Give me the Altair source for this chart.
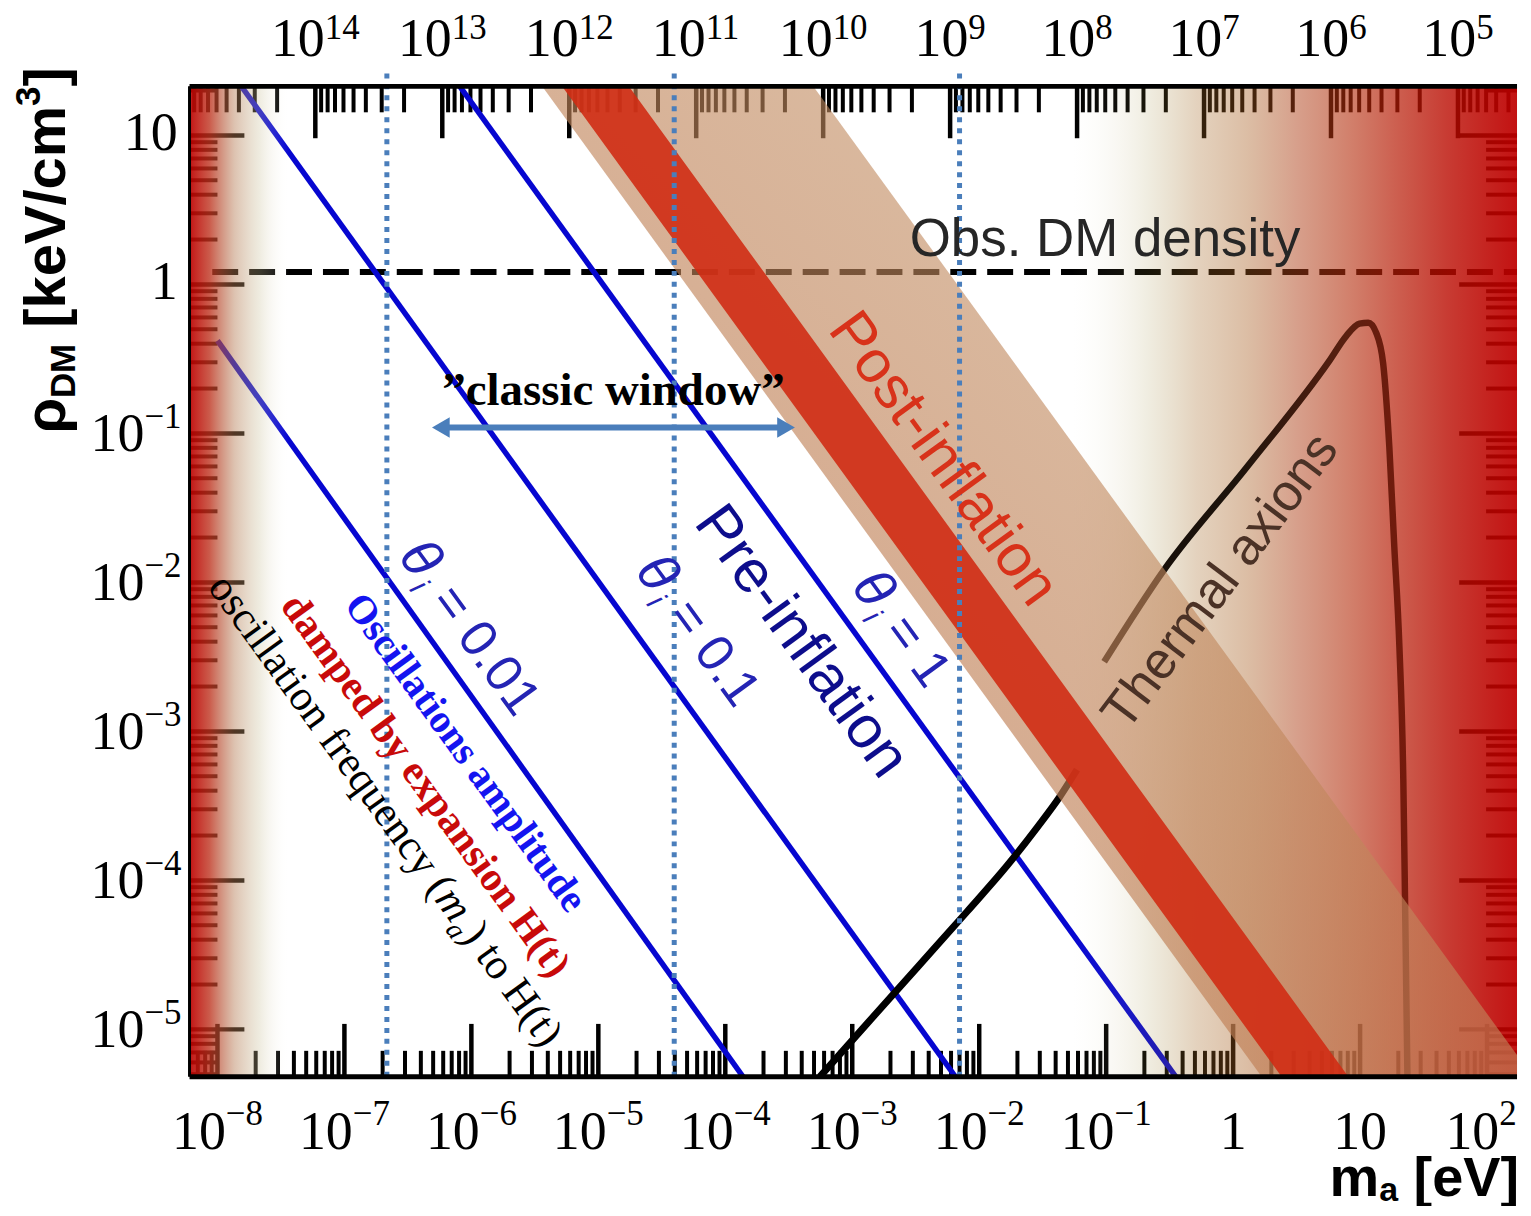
import altair as alt
import pandas as pd

# ---------------- plot geometry ----------------
W, H = 1331, 993
X_LO, X_HI = -8.22, 2.236      # log10 m_a [eV]
Y_LO, Y_HI = -5.318, 1.329     # log10 rho [keV/cm^3]

# ---------------- data ----------------
theta_id = ["0.01", "0.01", "0.1", "0.1", "1", "1"]
theta_m = [1.0e-8, 1.38e-4, 1.545e-8, 6.50e-3, 8.11e-7, 0.354]
theta_rho = [0.419, 4.81e-6, 21.3, 4.81e-6, 21.3, 4.81e-6]

thermal_m = [0.0964, 0.285, 1.28, 5.74, 7.80, 9.89, 11.6, 13.4, 15.2, 17.0, 18.6, 20.4, 21.9, 22.7, 23.6]
thermal_rho = [2.93e-3, 1.21e-2, 5.92e-2, 0.308, 0.452, 0.545, 0.553, 0.473, 0.294, 8.05e-2,
               1.73e-2, 3.70e-3, 4.75e-4, 5.50e-5, 4.81e-6]

osc_m = [5.56e-4, 1.324e-3, 3.27e-3, 8.07e-3, 1.667e-2, 2.864e-2, 4.27e-2, 5.90e-2]
osc_rho = [4.81e-6, 1.106e-5, 2.62e-5, 6.21e-5, 1.262e-4, 2.27e-4, 3.60e-4, 5.54e-4]

post_m = [3.39e-6, 4.63e-4, 1.679, 172.2]
post_hi = [23.0, 23.0, 1.538e-3, 6.73e-6]
post_lo = [23.0, 0.0718, 4.81e-6, 4.81e-6]

core_m = [4.864e-6, 1.633e-5, 2.410, 8.091]
core_hi = [23.0, 23.0, 1.99e-5, 4.81e-6]
core_lo = [23.0, 5.559, 4.81e-6, 4.81e-6]

window_m = [2.16e-7, 3.96e-5, 7.0e-3]
obs_m = [9.1e-9, 172.2]
obs_rho = [1.21, 1.21]
arrow_m = [5.75e-7, 3.01e-4]
arrow_rho = [0.1096, 0.1096]

# tick labels
bot_vals = [1e-8, 1e-7, 1e-6, 1e-5, 1e-4, 1e-3, 1e-2, 1e-1, 1.0, 10.0, 100.0]
bot_base = ["10", "10", "10", "10", "10", "10", "10", "10", "1", "10", "10"]
bot_exp = ["\u22128", "\u22127", "\u22126", "\u22125", "\u22124", "\u22123", "\u22122", "\u22121", "", "", "2"]

top_f = [1e14, 1e13, 1e12, 1e11, 1e10, 1e9, 1e8, 1e7, 1e6, 1e5]
top_exp = ["14", "13", "12", "11", "10", "9", "8", "7", "6", "5"]
FA_CONV = 5.9e6   # m_a [eV] * f_a [GeV]

left_vals = [10.0, 1.0, 0.1, 1e-2, 1e-3, 1e-4, 1e-5]
left_base = ["10", "1", "10", "10", "10", "10", "10"]
left_exp = ["", "", "\u22121", "\u22122", "\u22123", "\u22124", "\u22125"]

# annotation anchors (m_a, rho)
ann_theta_m = [9.89e-7, 6.22e-5, 2.49e-3]
ann_theta_rho = [5.02e-3, 4.80e-3, 4.94e-3]
ann_theta_txt = [" = 0.01", " = 0.1", " = 1"]
pre_anchor = (4.16e-4, 4.11e-3)
post_anchor = (5.43e-3, 0.0690)
thermal_anchor = (0.771, 0.01035)
obs_anchor = (0.0980, 2.05)
classic_anchor = (1.315e-5, 0.200)
amp_anchor = (9.20e-7, 7.31e-4)
damp_anchor = (4.47e-7, 4.40e-4)
freq_anchor = (2.16e-7, 2.99e-4)

# ---------------- helpers ----------------
SERIF = "Liberation Serif"
SANS = "Liberation Sans"

TIMES = {' ': .25, '(': .333, ')': .333, 'H': .722, 'O': .722, 'a': .444, 'b': .5, 'c': .444,
         'd': .5, 'e': .444, 'f': .333, 'i': .278, 'l': .278, 'm': .778, 'n': .5, 'o': .5, 'p': .5,
         'q': .5, 'r': .333, 's': .389, 't': .278, 'u': .5, 'x': .5, 'y': .5, '\u2212': .564,
         '0': .5, '1': .5, '2': .5, '3': .5, '4': .5, '5': .5, '6': .5, '7': .5, '8': .5, '9': .5}
TIMES_I = {'m': .722, 'a': .5}
ARIAL = {' ': .278, '=': .584, '0': .556, '1': .556, '.': .278, 'i': .222}
ARIAL_I = {'\u03b8': .60, 'i': .222}
ARIAL_B = {'\u03c1': .611, 'D': .722, 'M': .833, ' ': .278, '[': .333, ']': .333, 'k': .556,
           'e': .556, 'V': .667, '/': .278, 'c': .556, 'm': .889, '3': .556, 'a': .556}


def tw(s, tab, size):
    return sum(tab.get(ch, 0.5) for ch in s) * size


xs = alt.Scale(type="log", domain=[10 ** X_LO, 10 ** X_HI], nice=False)
ys = alt.Scale(type="log", domain=[10 ** Y_LO, 10 ** Y_HI], nice=False)


def ex(f="m"):
    return alt.X(f"{f}:Q", scale=xs, axis=None)


def ey(f="r"):
    return alt.Y(f"{f}:Q", scale=ys, axis=None)


one = pd.DataFrame({"k": [0]})
layers = []

# ---------------- ticks (under overlays) ----------------
M_MIN, M_MAX = 10 ** X_LO, 10 ** X_HI
R_MIN, R_MAX = 10 ** Y_LO, 10 ** Y_HI
bot_major = [10.0 ** k for k in range(-8, 3)]
bot_minor = [n * 10.0 ** k for k in range(-9, 3) for n in range(2, 10) if M_MIN <= n * 10.0 ** k <= M_MAX]
top_major = [FA_CONV / f for f in top_f]
top_minor = [FA_CONV / (n * 10.0 ** k) for k in range(3, 16) for n in range(2, 10)
             if M_MIN <= FA_CONV / (n * 10.0 ** k) <= M_MAX]
y_major = [10.0 ** k for k in range(-5, 2)]
y_minor = [n * 10.0 ** k for k in range(-6, 2) for n in range(2, 10) if R_MIN <= n * 10.0 ** k <= R_MAX]


def xticks(vals, y0, y1, w):
    return alt.Chart(pd.DataFrame({"m": vals})).mark_rule(color="black", strokeWidth=w).encode(
        x=ex(), y=alt.value(y0), y2=alt.value(y1))


def yticks(vals, x0, x1, w):
    return alt.Chart(pd.DataFrame({"r": vals})).mark_rule(color="black", strokeWidth=w).encode(
        y=ey(), x=alt.value(x0), x2=alt.value(x1))


layers += [xticks(bot_major, H, H - 53, 4.5), xticks(bot_minor, H, H - 26, 4),
           xticks(top_major, 0, 52, 4.5), xticks(top_minor, 0, 26, 4),
           yticks(y_major, 0, 55, 4.5), yticks(y_minor, 0, 28, 4),
           yticks(y_major, W, W - 58, 4.5), yticks(y_minor, W, W - 31, 4)]

# ---------------- lines & curves ----------------
layers.append(alt.Chart(pd.DataFrame({"m": obs_m, "r": obs_rho})).mark_line(
    color="black", strokeWidth=6, strokeDash=[26, 11], clip=True).encode(x=ex(), y=ey()))
layers.append(alt.Chart(pd.DataFrame({"m": theta_m, "r": theta_rho, "s": theta_id})).mark_line(
    color="#0606d0", strokeWidth=5.5, clip=True).encode(x=ex(), y=ey(), detail="s:N"))
layers.append(alt.Chart(pd.DataFrame({"m": osc_m, "r": osc_rho})).mark_line(
    color="black", strokeWidth=7, clip=True, interpolate="monotone").encode(x=ex(), y=ey()))

# ---------------- edge gradients ----------------
left_grad = alt.LinearGradient(gradient="linear", x1=0, x2=1, y1=0, y2=0, stops=[
    alt.GradientStop(offset=0, color="rgba(190,0,0,0.92)"),
    alt.GradientStop(offset=0.2, color="rgba(190,50,30,0.8)"),
    alt.GradientStop(offset=0.45, color="rgba(180,120,80,0.45)"),
    alt.GradientStop(offset=0.7, color="rgba(200,190,150,0.3)"),
    alt.GradientStop(offset=1, color="rgba(255,255,255,0)")])
right_grad = alt.LinearGradient(gradient="linear", x1=0, x2=1, y1=0, y2=0, stops=[
    alt.GradientStop(offset=0, color="rgba(230,225,200,0)"),
    alt.GradientStop(offset=0.168, color="rgba(155,135,55,0.15)"),
    alt.GradientStop(offset=0.28, color="rgba(165,105,38,0.3)"),
    alt.GradientStop(offset=0.392, color="rgba(167,92,30,0.4)"),
    alt.GradientStop(offset=0.504, color="rgba(175,65,25,0.5)"),
    alt.GradientStop(offset=0.617, color="rgba(180,47,13,0.6)"),
    alt.GradientStop(offset=0.729, color="rgba(183,27,5,0.7)"),
    alt.GradientStop(offset=0.841, color="rgba(186,11,0,0.8)"),
    alt.GradientStop(offset=1, color="rgba(190,0,0,0.93)")])
layers.append(alt.Chart(one).mark_rect(color=left_grad).encode(
    x=alt.value(0), x2=alt.value(100), y=alt.value(0), y2=alt.value(H)))
layers.append(alt.Chart(one).mark_rect(color=right_grad).encode(
    x=alt.value(885), x2=alt.value(W), y=alt.value(0), y2=alt.value(H)))

# thermal curve: black in the clear region, dark red under the red edge
thermal_grad = alt.LinearGradient(gradient="linear", x1=0, x2=1, y1=0, y2=0, stops=[
    alt.GradientStop(offset=0, color="#120c08"),
    alt.GradientStop(offset=0.45, color="#1e140c"),
    alt.GradientStop(offset=0.8, color="#5a2010"),
    alt.GradientStop(offset=1, color="#761a0c")])
layers.append(alt.Chart(pd.DataFrame({"m": thermal_m, "r": thermal_rho})).mark_line(
    color=thermal_grad, strokeWidth=6.5, clip=True, interpolate="monotone").encode(x=ex(), y=ey()))

# ---------------- bands ----------------
band_grad = alt.LinearGradient(gradient="linear", x1=1, y1=0, x2=0, y2=1, stops=[
    alt.GradientStop(offset=0, color="rgba(195,155,110,0.55)"),
    alt.GradientStop(offset=1, color="rgba(190,110,70,0.72)")])
layers.append(alt.Chart(pd.DataFrame({"m": post_m, "r": post_hi, "r2": post_lo})).mark_area(
    color=band_grad, clip=True).encode(x=ex(), y=ey(), y2=alt.Y2("r2:Q")))
layers.append(alt.Chart(pd.DataFrame({"m": core_m, "r": core_hi, "r2": core_lo})).mark_area(
    color="#d02c14", opacity=0.9, clip=True).encode(x=ex(), y=ey(), y2=alt.Y2("r2:Q")))

# ---------------- window lines & arrow ----------------
layers.append(alt.Chart(pd.DataFrame({"m": window_m})).mark_rule(
    color="#4a7ebb", strokeWidth=5, strokeDash=[5, 6]).encode(x=ex(), y=alt.value(-13), y2=alt.value(H)))
layers.append(alt.Chart(pd.DataFrame({"m": arrow_m, "r": arrow_rho})).mark_line(
    color="#4a7ebb", strokeWidth=6).encode(x=ex(), y=ey()))
layers.append(alt.Chart(pd.DataFrame({"m": arrow_m[:1], "r": arrow_rho[:1]})).mark_point(
    shape="triangle-left", filled=True, size=420, color="#4a7ebb", opacity=1).encode(x=ex(), y=ey()))
layers.append(alt.Chart(pd.DataFrame({"m": arrow_m[1:], "r": arrow_rho[1:]})).mark_point(
    shape="triangle-right", filled=True, size=420, color="#4a7ebb", opacity=1).encode(x=ex(), y=ey()))

# ---------------- frame ----------------
layers.append(alt.Chart(one).mark_rule(color="black", strokeWidth=5).encode(
    x=alt.value(0), x2=alt.value(W), y=alt.value(0)))
layers.append(alt.Chart(one).mark_rule(color="black", strokeWidth=5).encode(
    x=alt.value(0), x2=alt.value(W), y=alt.value(H)))
layers.append(alt.Chart(one).mark_rule(color="black", strokeWidth=3).encode(
    x=alt.value(0), y=alt.value(0), y2=alt.value(H)))

# ---------------- tick labels ----------------
BS, ES = 54, 35      # base / exponent font size


def lbl(df, xe, ye, **mk):
    return alt.Chart(df).mark_text(font=SERIF, color="black", baseline="alphabetic", **mk).encode(
        x=xe, y=ye, text="t:N")


wb = tw("10", TIMES, BS)
# bottom
bdf = pd.DataFrame({"m": bot_vals, "b": bot_base, "e": bot_exp})
plain = bdf[bdf.e == ""]
layers.append(lbl(plain.assign(t=plain.b), ex(), alt.value(H + 72), fontSize=BS, align="center"))
for e_len in sorted(set(len(e) for e in bot_exp if e)):
    sub = bdf[(bdf.e != "") & (bdf.e.str.len() == e_len)]
    we = tw(sub.e.iloc[0], TIMES, ES)
    d = (wb - we) / 2
    if e_len == 1:
        d -= 6
    layers.append(lbl(sub.assign(t=sub.b), ex(), alt.value(H + 72), fontSize=BS, align="right", dx=d))
    layers.append(lbl(sub.assign(t=sub.e), ex(), alt.value(H + 48), fontSize=ES, align="left", dx=d))
# top
tdf = pd.DataFrame({"m": [FA_CONV / f for f in top_f], "e": top_exp})
for e_len in sorted(set(len(e) for e in top_exp)):
    sub = tdf[tdf.e.str.len() == e_len]
    we = tw(sub.e.iloc[0], TIMES, ES)
    d = (wb - we) / 2
    layers.append(lbl(sub.assign(t="10"), ex(), alt.value(-30), fontSize=BS, align="right", dx=d))
    layers.append(lbl(sub.assign(t=sub.e), ex(), alt.value(-48), fontSize=ES, align="left", dx=d))
# left
ldf = pd.DataFrame({"r": left_vals, "b": left_base, "e": left_exp})
plain = ldf[ldf.e == ""]
layers.append(lbl(plain.assign(t=plain.b), alt.value(-12), ey(), fontSize=BS, align="right", dy=15))
sub = ldf[ldf.e != ""]
we = tw(sub.e.iloc[0], TIMES, ES)
layers.append(lbl(sub.assign(t=sub.b), alt.value(-8), ey(), fontSize=BS, align="right", dx=-we, dy=18))
layers.append(lbl(sub.assign(t=sub.e), alt.value(-8), ey(), fontSize=ES, align="right", dy=-5))


# ---------------- annotations ----------------
def composite(anchor, angle, parts, font, color, center=True, pixel=False):
    widths = [tw(p[0], p[2], p[1]) for p in parts]
    cum = -sum(widths) / 2 if center else 0.0
    out = []
    for (t, s, tab, style, weight, dy), w in zip(parts, widths):
        shown = t.lstrip(" ")
        lead = tw(t[:len(t) - len(shown)], tab, s)   # leading blanks are trimmed by the renderer
        if pixel:
            data = pd.DataFrame({"t": [shown]})
            xe, ye = alt.value(anchor[0]), alt.value(anchor[1])
        else:
            data = pd.DataFrame({"m": [anchor[0]], "r": [anchor[1]], "t": [shown]})
            xe, ye = ex(), ey()
        out.append(alt.Chart(data).mark_text(
            align="left", baseline="alphabetic", angle=angle, dx=cum + lead, dy=dy, font=font, fontSize=s,
            fontStyle=style, fontWeight=weight, color=color).encode(x=xe, y=ye, text="t:N"))
        cum += w
    return out


def single(anchor, angle, text, font, size, color, weight="normal"):
    data = pd.DataFrame({"m": [anchor[0]], "r": [anchor[1]], "t": [text]})
    return alt.Chart(data).mark_text(
        align="center", baseline="alphabetic", angle=angle, dy=0.35 * size, font=font, fontSize=size,
        fontWeight=weight, color=color).encode(x=ex(), y=ey(), text="t:N")


TS = 52
for m, r, txt in zip(ann_theta_m, ann_theta_rho, ann_theta_txt):
    layers += composite((m, r), 54, [
        ("\u03b8", 56, ARIAL_I, "italic", "normal", 0.35 * TS),
        ("i", 31, ARIAL_I, "italic", "normal", 0.35 * TS + 10),
        (txt, TS, ARIAL, "normal", "normal", 0.35 * TS)], SANS, "#2424b4")

layers.append(single(pre_anchor, 54, "Pre-inflation", SANS, 60, "#0d0d8c"))
layers.append(single(post_anchor, 54, "Post-inflation", SANS, 60, "#d8321a"))
layers.append(single(thermal_anchor, 307, "Thermal axions", SANS, 52, "#4b3226"))
layers.append(single(obs_anchor, 0, "Obs. DM density", SANS, 53, "#262626"))
layers.append(single(classic_anchor, 0, "\u201dclassic window\u201d", SERIF, 47, "black", weight="bold"))
layers.append(single(amp_anchor, 54, "Oscillations amplitude", SERIF, 40, "#1414f0", weight="bold"))
layers.append(single(damp_anchor, 54, "damped by expansion H(t)", SERIF, 41, "#c80a0a", weight="bold"))
FS = 43
layers += composite(freq_anchor, 54, [
    ("oscillation frequency (", FS, TIMES, "normal", "normal", 0.35 * FS),
    ("m", FS, TIMES_I, "italic", "normal", 0.35 * FS),
    ("a", 28, TIMES_I, "italic", "normal", 0.35 * FS + 9),
    (") to H(t)", FS, TIMES, "normal", "normal", 0.35 * FS)], SERIF, "black")

# axis titles
layers += composite((-125, 348), 270, [
    ("\u03c1", 58, ARIAL_B, "normal", "bold", 0),
    ("DM", 35, ARIAL_B, "normal", "bold", 10),
    (" [keV/cm", 58, ARIAL_B, "normal", "bold", 0),
    ("3", 35, ARIAL_B, "normal", "bold", -25),
    ("]", 58, ARIAL_B, "normal", "bold", 0)], SANS, "black", center=False, pixel=True)
layers += composite((1143, 1113), 0, [
    ("m", 56, ARIAL_B, "normal", "bold", 0),
    ("a", 34, ARIAL_B, "normal", "bold", 5),
    (" [eV]", 56, ARIAL_B, "normal", "bold", 0)], SANS, "black", center=False, pixel=True)

chart = alt.layer(*layers).properties(
    width=W, height=H,
    padding={"left": 182, "top": 77, "right": 6, "bottom": 128},
    autosize=alt.AutoSizeParams(type="none"),
    background="white",
).configure_view(strokeWidth=0)

chart.save("out.html", embed_options={"renderer": "svg", "actions": False})
